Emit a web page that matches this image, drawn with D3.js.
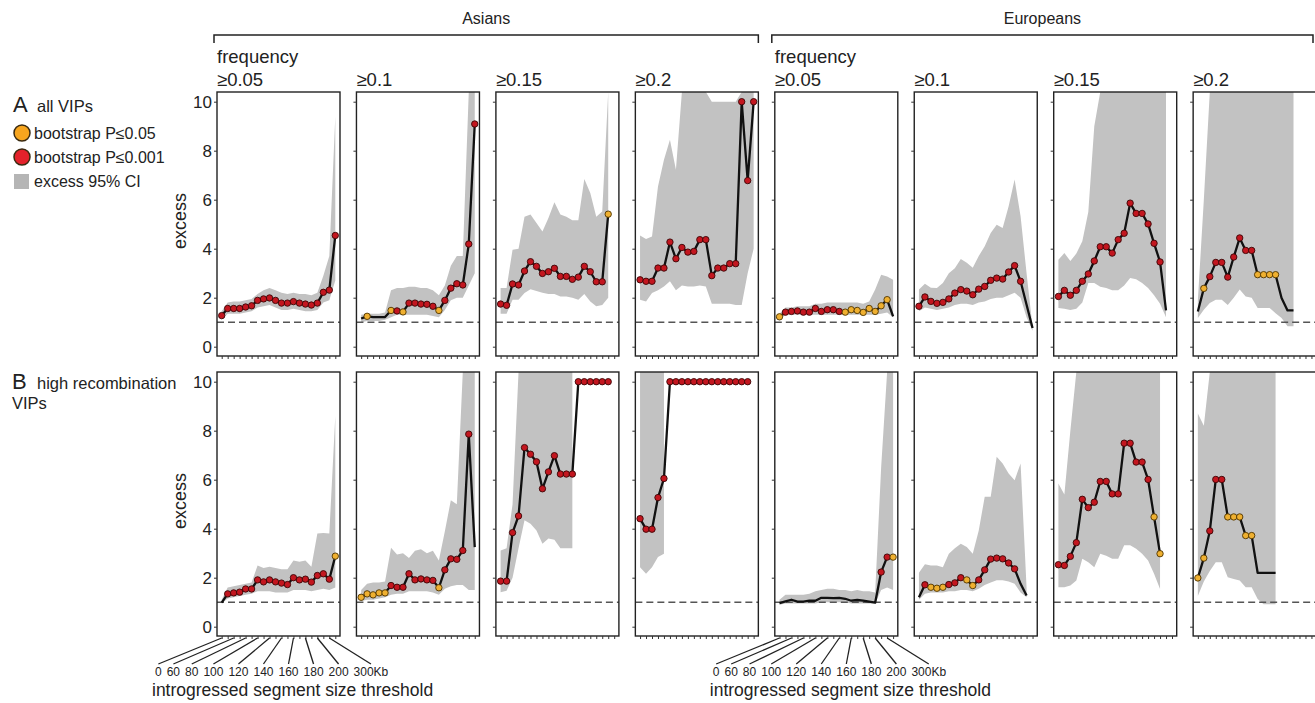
<!DOCTYPE html>
<html><head><meta charset="utf-8">
<script src="https://cdn.jsdelivr.net/npm/d3@7"></script>
<style>
body{margin:0;background:#fff}
svg{display:block}
text{font-family:"Liberation Sans",Arial,sans-serif;fill:#222}
</style>
</head><body>
<svg id="c" width="1315" height="703"></svg>
<script>
// ---- categories / labels ----
const thresholds = ["0","50","60","70","80","90","100","110","120","130","140","150","160","170","180","190","200","250","300","400"];
const tickLabels = ["0","60","80","100","120","140","160","180","200","300Kb"];
const tickLabelAt = ["0","60","80","100","120","140","160","180","200","300"];
const populations = ["Asians","Europeans"];
const freqLabels = ["≥0.05","≥0.1","≥0.15","≥0.2"];
const yTicks = [0,2,4,6,8,10];
const N = null;

// ---- A: all VIPs ----
const A_as05_y  = [1.27,1.56,1.56,1.56,1.62,1.67,1.89,1.95,1.99,1.89,1.78,1.78,1.84,1.78,1.74,1.70,1.78,2.22,2.31,4.54];
const A_as05_hi = [1.45,1.8,1.85,1.85,1.9,1.95,2.15,2.3,2.4,2.3,2.2,2.15,2.2,2.15,2.15,2.1,2.2,2.9,3.7,9.4];
const A_as05_lo = [1.1,1.35,1.35,1.35,1.4,1.45,1.6,1.65,1.7,1.6,1.5,1.5,1.55,1.5,1.45,1.45,1.5,1.8,1.9,2.7];
const A_as05_p  = "rrrrrrrrrrrrrrrrrrrr";

const A_as10_y  = [1.15,1.24,1.21,1.21,1.21,1.48,1.46,1.42,1.78,1.78,1.74,1.73,1.65,1.48,1.89,2.39,2.57,2.52,4.19,9.09];
const A_as10_hi = [1.3,1.35,1.35,1.35,1.4,2.3,2.4,2.4,2.45,2.45,2.4,2.4,2.3,2.1,2.5,3.3,3.7,3.7,10.4,10.4];
const A_as10_lo = [1.0,1.05,1.05,1.05,1.1,1.2,1.3,1.3,1.3,1.3,1.3,1.3,1.25,1.2,1.5,1.9,2.0,2.0,2.5,3.0];
const A_as10_p  = "-o---ororrrrrorrrrrr";

const A_as15_y  = [1.74,1.69,2.56,2.52,3.09,3.47,3.28,2.99,3.06,3.2,2.87,2.87,2.75,2.84,3.28,3.06,2.65,2.65,5.41,N];
const A_as15_hi = [2.4,2.4,3.96,4.0,5.3,5.4,5.05,4.7,5.25,5.9,5.4,5.3,5.16,5.16,6.84,6.27,5.3,5.52,10.4,N];
const A_as15_lo = [1.35,1.35,1.92,1.92,2.19,2.35,2.27,2.2,2.15,2.15,2.05,2.05,2.0,1.92,2.15,1.85,1.65,1.7,2.0,N];
const A_as15_p  = "rrrrrrrrrrrrrrrrrro-";

const A_as20_y  = [2.73,2.67,2.67,3.21,3.21,4.27,3.59,4.05,3.86,3.89,4.37,4.37,2.9,3.21,3.21,3.39,3.39,10.0,6.78,10.0];
const A_as20_hi = [4.54,4.4,4.5,6.54,7.63,8.45,7.22,10.4,10.4,10.4,10.4,10.4,10.0,10.0,10.0,10.0,10.0,10.4,10.4,10.4];
const A_as20_lo = [1.92,1.85,2.19,2.3,2.46,2.67,2.3,2.5,2.46,2.46,2.5,2.46,1.75,1.75,1.75,1.75,1.7,1.7,3.0,4.0];
const A_as20_p  = "rrrrrrrrrrrrrrrrrrrr";

const A_eu05_y  = [1.22,1.41,1.44,1.46,1.41,1.41,1.56,1.44,1.51,1.51,1.44,1.41,1.51,1.48,1.4,1.56,1.44,1.67,1.92,1.24];
const A_eu05_hi = [1.35,1.6,1.6,1.65,1.65,1.65,1.75,1.75,1.8,1.8,1.8,1.8,1.8,1.8,1.75,1.85,2.33,2.94,2.87,2.73];
const A_eu05_lo = [1.1,1.3,1.3,1.3,1.3,1.3,1.3,1.3,1.3,1.3,1.3,1.3,1.3,1.3,1.3,1.3,1.3,1.35,1.4,1.2];
const A_eu05_p  = "orrrrrrrrrroooooooo-";

const A_eu10_y  = [1.65,2.03,1.85,1.77,1.81,1.95,2.19,2.33,2.27,2.12,2.35,2.46,2.71,2.8,2.76,3.05,3.31,2.67,1.71,0.76];
const A_eu10_hi = [2.33,2.57,2.41,2.4,2.6,3.0,3.2,3.58,3.43,3.22,3.7,4.1,4.64,4.98,4.84,5.73,6.82,5.32,3.0,0.8];
const A_eu10_lo = [1.45,1.6,1.55,1.5,1.55,1.6,1.7,1.75,1.75,1.7,1.8,1.85,1.95,2.0,2.0,2.1,2.2,2.0,1.2,0.65];
const A_eu10_p  = "rrrrrrrrrrrrrrrrrr--";

const A_eu15_y  = [2.05,2.3,2.1,2.3,2.67,2.97,3.5,4.08,4.08,3.82,4.37,4.63,5.86,5.44,5.44,5.01,4.22,3.46,1.48,N];
const A_eu15_hi = [3.55,3.82,3.5,3.8,4.3,5.5,9.0,10.4,10.4,10.4,10.4,10.4,10.4,10.4,10.4,10.4,10.4,10.4,10.4,N];
const A_eu15_lo = [1.58,1.55,1.5,1.55,1.8,2.6,2.6,2.45,2.4,2.3,2.3,2.5,2.8,2.75,2.6,2.4,2.1,1.75,1.2,N];
const A_eu15_p  = "rrrrrrrrrrrrrrrrrr--";

const A_eu20_y  = [1.44,2.38,2.86,3.44,3.44,2.84,3.66,4.44,3.93,3.93,2.94,2.94,2.94,2.94,1.99,1.48,1.48,N,N,N];
const A_eu20_hi = [1.9,6.0,10.4,10.4,10.4,10.4,10.4,10.4,10.4,10.4,10.4,10.4,10.4,10.4,10.4,10.4,10.4,N,N,N];
const A_eu20_lo = [1.17,1.51,1.78,1.92,1.92,1.7,2.0,2.33,2.05,2.0,1.58,1.58,1.58,1.37,1.17,0.83,0.83,N,N,N];
const A_eu20_p  = "-orrrrrrrroooo------";

// ---- B: high recombination VIPs ----
const B_as05_y  = [0.98,1.34,1.38,1.41,1.54,1.54,1.91,1.83,1.91,1.83,1.78,1.72,2.0,1.91,1.94,1.82,2.09,2.16,1.94,2.88];
const B_as05_hi = [1.1,1.6,1.65,1.7,1.75,1.8,2.5,2.4,2.45,2.4,2.35,2.35,2.7,2.65,2.7,2.45,3.8,3.82,3.8,8.6];
const B_as05_lo = [0.95,1.15,1.2,1.25,1.3,1.35,1.45,1.45,1.45,1.4,1.4,1.4,1.5,1.5,1.5,1.45,1.5,1.55,1.5,1.6];
const B_as05_p  = "-rrrrrrrrrrrrrrrrrro";

const B_as10_y  = [1.2,1.34,1.3,1.38,1.38,1.68,1.61,1.61,2.16,1.91,1.95,1.91,1.89,1.59,2.32,2.77,2.75,3.11,7.86,3.25];
const B_as10_hi = [1.5,1.75,1.8,1.8,1.85,3.22,2.95,3.0,2.8,3.1,3.16,3.0,3.1,2.7,3.9,5.16,5.0,10.4,10.4,10.4];
const B_as10_lo = [1.05,1.1,1.1,1.15,1.2,1.3,1.35,1.35,1.45,1.45,1.45,1.45,1.4,1.3,1.55,1.65,1.7,1.7,1.5,1.5];
const B_as10_p  = "ooooorrrrrrrrorrrrr-";

const B_as15_y  = [1.86,1.86,3.84,4.52,7.31,7.04,6.73,5.63,6.32,6.98,6.23,6.23,6.23,10,10,10,10,10,10,N];
const B_as15_hi = [3.11,3.2,5.0,10.4,10.4,10.4,10.4,10.4,10.4,10.4,10.4,10.4,10.4,N,N,N,N,N,N,N];
const B_as15_lo = [1.41,1.47,2.0,3.2,4.34,4.2,3.93,3.39,3.6,3.55,3.2,3.2,3.2,N,N,N,N,N,N,N];
const B_as15_p  = "rrrrrrrrrrrrrrrrrrr-";

const B_as20_y  = [4.41,3.98,3.98,5.27,6.05,10,10,10,10,10,10,10,10,10,10,10,10,10,10,N];
const B_as20_hi = [10.4,10.4,10.4,10.4,10.4,N,N,N,N,N,N,N,N,N,N,N,N,N,N,N];
const B_as20_lo = [2.43,2.16,2.43,2.84,2.98,N,N,N,N,N,N,N,N,N,N,N,N,N,N,N];
const B_as20_p  = "rrrrrrrrrrrrrrrrrrr-";

const B_eu05_y  = [0.96,1.03,1.1,1.02,1.02,1.06,1.06,1.18,1.18,1.17,1.18,1.14,1.06,1.09,1.06,1.02,0.98,2.23,2.84,2.84];
const B_eu05_hi = [1.1,1.3,1.3,1.3,1.3,1.35,1.45,1.5,1.55,1.55,1.5,1.5,1.45,1.5,1.45,1.45,1.4,6.5,10.4,10.4];
const B_eu05_lo = [0.9,0.95,0.95,0.95,0.95,0.95,0.95,1.0,1.0,1.0,1.0,1.0,0.95,0.95,0.95,0.95,0.95,1.5,1.6,1.5];
const B_eu05_p  = "-----------------rro";

const B_eu10_y  = [1.2,1.71,1.61,1.57,1.61,1.72,1.79,2.0,1.91,1.68,1.91,2.32,2.76,2.8,2.77,2.6,2.36,1.75,1.27,N];
const B_eu10_hi = [2.2,2.55,2.5,2.5,2.43,2.98,3.2,3.39,3.25,2.98,3.93,5.3,5.3,6.94,6.66,6.25,5.98,6.66,1.6,N];
const B_eu10_lo = [1.1,1.35,1.4,1.4,1.4,1.45,1.45,1.5,1.5,1.45,1.55,1.7,1.8,1.9,1.9,1.85,1.75,1.4,1.2,N];
const B_eu10_p  = "-rooorrroorrrrrrr---";

const B_eu15_y  = [2.53,2.5,2.87,3.43,5.2,4.86,5.08,5.93,5.93,5.42,5.42,7.49,7.49,6.72,6.72,6.01,4.48,2.98,N,N];
const B_eu15_hi = [5.85,5.4,8.0,10.4,10.4,10.4,10.4,10.4,10.4,10.4,10.4,10.4,10.4,10.4,10.4,10.4,10.4,10.4,N,N];
const B_eu15_lo = [1.61,1.61,1.68,1.89,2.77,2.63,2.43,2.98,2.9,2.77,2.77,3.32,3.32,3.18,2.98,2.7,2.16,1.54,N,N];
const B_eu15_p  = "rrrrrrrrrrrrrrrroo--";

const B_eu20_y  = [1.99,2.8,3.91,6.01,6.01,4.48,4.48,4.48,3.72,3.72,2.2,2.2,2.2,2.2,N,N,N,N,N,N];
const B_eu20_hi = [8.7,8.2,10.4,10.4,10.4,10.4,10.4,10.4,10.4,10.4,10.4,10.4,10.4,10.4,N,N,N,N,N,N];
const B_eu20_lo = [1.25,1.85,2.27,2.63,2.63,2.02,1.95,1.89,1.61,1.61,1.13,0.92,0.92,0.92,N,N,N,N,N,N];
const B_eu20_p  = "oorrrooooo----------";

// ---- assemble panels ----
const panels = [
  [A_as05_y,A_as05_lo,A_as05_hi,A_as05_p],[A_as10_y,A_as10_lo,A_as10_hi,A_as10_p],
  [A_as15_y,A_as15_lo,A_as15_hi,A_as15_p],[A_as20_y,A_as20_lo,A_as20_hi,A_as20_p],
  [A_eu05_y,A_eu05_lo,A_eu05_hi,A_eu05_p],[A_eu10_y,A_eu10_lo,A_eu10_hi,A_eu10_p],
  [A_eu15_y,A_eu15_lo,A_eu15_hi,A_eu15_p],[A_eu20_y,A_eu20_lo,A_eu20_hi,A_eu20_p],
  [B_as05_y,B_as05_lo,B_as05_hi,B_as05_p],[B_as10_y,B_as10_lo,B_as10_hi,B_as10_p],
  [B_as15_y,B_as15_lo,B_as15_hi,B_as15_p],[B_as20_y,B_as20_lo,B_as20_hi,B_as20_p],
  [B_eu05_y,B_eu05_lo,B_eu05_hi,B_eu05_p],[B_eu10_y,B_eu10_lo,B_eu10_hi,B_eu10_p],
  [B_eu15_y,B_eu15_lo,B_eu15_hi,B_eu15_p],[B_eu20_y,B_eu20_lo,B_eu20_hi,B_eu20_p]
].map((a,k)=>({row:Math.floor(k/8), col:k%8, y:a[0], lo:a[1], hi:a[2], p:a[3].split("")}));

// ---- layout ----
const svg = d3.select("#c");
const col0 = 217, colStep = 139.45, panelW = 123, panelH = 264;
const rowTops = [92, 372];
const COL = {r:{fill:"#c3161f",stroke:"#3a0606"}, o:{fill:"#efb030",stroke:"#4d3300"}};
const gray = "#c2c2c2";
const defs = svg.append("defs");

panels.forEach((P,k)=>{
  const left = col0 + P.col*colStep, top = rowTops[P.row];
  const x = d3.scalePoint().domain(thresholds).range([left+4.7, left+118.3]);
  const y = d3.scaleLinear().domain([0,10]).range([top+254.7, top+9.7]);
  const idx = d3.range(thresholds.length);
  defs.append("clipPath").attr("id","cp"+k).append("rect")
    .attr("x",left).attr("y",top).attr("width",panelW).attr("height",panelH);
  const g = svg.append("g");
  const inner = g.append("g").attr("clip-path",`url(#cp${k})`);
  inner.append("path").datum(idx)
    .attr("fill",gray)
    .attr("d", d3.area().defined(i=>P.lo[i]!=null && P.hi[i]!=null)
      .x(i=>x(thresholds[i])).y0(i=>y(P.lo[i])).y1(i=>y(P.hi[i])));
  inner.append("line").attr("x1",left).attr("x2",left+panelW)
    .attr("y1",y(1)).attr("y2",y(1))
    .attr("stroke","#555").attr("stroke-width",1.6).attr("stroke-dasharray","7,4");
  inner.append("path").datum(idx)
    .attr("fill","none").attr("stroke","#111").attr("stroke-width",2.3).attr("stroke-linejoin","round")
    .attr("d", d3.line().defined(i=>P.y[i]!=null).x(i=>x(thresholds[i])).y(i=>y(P.y[i])));
  inner.selectAll("circle").data(idx.filter(i=>P.y[i]!=null && P.p[i]!=="-")).join("circle")
    .attr("cx",i=>x(thresholds[i])).attr("cy",i=>y(P.y[i])).attr("r",3.2)
    .attr("fill",i=>COL[P.p[i]].fill).attr("stroke",i=>COL[P.p[i]].stroke).attr("stroke-width",0.9);
  g.append("rect").attr("x",left).attr("y",top).attr("width",panelW).attr("height",panelH)
    .attr("fill","none").attr("stroke","#222").attr("stroke-width",1.4);
  // axes
  const ay = g.append("g").attr("transform",`translate(${left},0)`)
    .call(d3.axisLeft(y).tickValues(yTicks).tickSize(3).tickPadding(2)
      .tickFormat(P.col===0 ? d3.format("d") : ()=>""));
  ay.select(".domain").remove();
  ay.selectAll("line").attr("stroke","#333");
  ay.selectAll("text").attr("font-size",17).attr("font-family","Liberation Sans, Arial, sans-serif").attr("fill","#333");
  const ax = g.append("g").attr("transform",`translate(0,${top+panelH})`)
    .call(d3.axisBottom(x).tickSize(3).tickFormat(()=>""));
  ax.select(".domain").remove();
  ax.selectAll("line").attr("stroke","#333");

  // fanned x labels under first column of each population, lower row
  if (P.row===1 && (P.col===0 || P.col===4)) {
    const lg = svg.append("g");
    let cx = left - 62;
    const centers = [];
    lg.selectAll("text").data(tickLabels).join("text")
      .attr("font-size",12).attr("y",676).text(d=>d)
      .each(function(d,i){
        const w = this.getComputedTextLength();
        d3.select(this).attr("x",cx);
        centers.push(cx + w/2);
        cx += w + 5;
      });
    lg.selectAll("line").data(tickLabelAt).join("line")
      .attr("x1",d=>x(d)).attr("y1",top+panelH+2)
      .attr("x2",(d,i)=>centers[i]).attr("y2",664)
      .attr("stroke","#222").attr("stroke-width",1.3);
    lg.append("text").attr("x",left-65).attr("y",696).attr("font-size",17.5)
      .text("introgressed segment size threshold");
  }
});

// column headers
d3.range(8).forEach(c=>{
  const left = col0 + c*colStep;
  svg.append("text").attr("x",left).attr("y",86).attr("font-size",18.5).text(freqLabels[c%4]);
  if (c%4===0) svg.append("text").attr("x",left).attr("y",63).attr("font-size",18.5).text("frequency");
});

// population brackets
populations.forEach((pop,i)=>{
  const x0 = i===0 ? col0-3 : col0+4*colStep-3;
  const x1 = i===0 ? col0+3*colStep+panelW : 1313;
  svg.append("path").attr("d",`M${x0},43V35H${x1}V43`)
    .attr("fill","none").attr("stroke","#222").attr("stroke-width",1.5);
  svg.append("text").attr("x",(x0+x1)/2).attr("y",24).attr("text-anchor","middle")
    .attr("font-size",16).text(pop);
});

// y labels
rowTops.forEach(t=>{
  svg.append("text").attr("transform",`translate(186,${t+panelH/2-3}) rotate(-90)`)
    .attr("text-anchor","middle").attr("font-size",18).attr("fill","#333").text("excess");
});

// row labels and legend
svg.append("text").attr("x",13).attr("y",112).attr("font-size",22).text("A");
svg.append("text").attr("x",37).attr("y",112).attr("font-size",16.5).text("all VIPs");
svg.append("text").attr("x",12).attr("y",389).attr("font-size",22).text("B");
svg.append("text").attr("x",37).attr("y",389).attr("font-size",16.5).text("high recombination");
svg.append("text").attr("x",12).attr("y",409).attr("font-size",16.5).text("VIPs");

const legend = [
  {label:"bootstrap P≤0.05", fill:"#f7a51e"},
  {label:"bootstrap P≤0.001", fill:"#e4222b"}
];
legend.forEach((d,i)=>{
  svg.append("circle").attr("cx",22).attr("cy",133+i*24).attr("r",8)
    .attr("fill",d.fill).attr("stroke","#3a2a10").attr("stroke-width",1.5);
  svg.append("text").attr("x",34).attr("y",139+i*24).attr("font-size",16).text(d.label);
});
svg.append("rect").attr("x",14).attr("y",174).attr("width",15).attr("height",15).attr("fill","#b5b5b5");
svg.append("text").attr("x",34).attr("y",187).attr("font-size",16).text("excess 95% CI");
</script>
</body></html>
